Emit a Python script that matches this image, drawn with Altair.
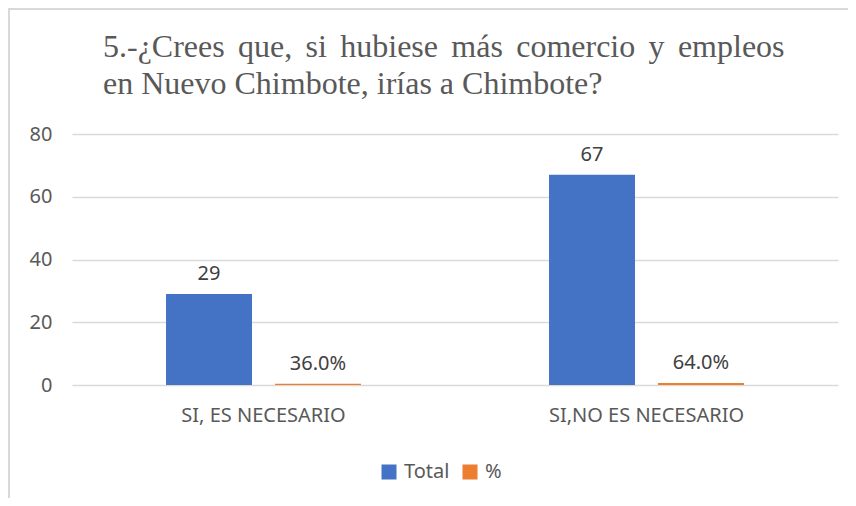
import altair as alt
import pandas as pd

categories = ["SI, ES NECESARIO", "SI,NO ES NECESARIO"]
series = ["Total", "%"]
total_values = [29, 67]
pct_values = [0.36, 0.64]
title_lines = ["5.-¿Crees\u2006 que,\u2006 si\u2006 hubiese\u2006 más\u2006 comercio\u2006 y\u2006 empleos",
               "en Nuevo Chimbote, irías a Chimbote?"]

rows = []
for c, t, p in zip(categories, total_values, pct_values):
    rows.append({"cat": c, "series": "Total", "value": t})
    rows.append({"cat": c, "series": "%", "value": p})
df = pd.DataFrame(rows)

font = "Noto Sans"
txt = "#595959"
fs = 20

base = alt.Chart(df).encode(
    x=alt.X("cat:N", sort=categories, title=None,
            scale=alt.Scale(paddingInner=0.491, paddingOuter=0.2455),
            axis=alt.Axis(labelAngle=0, domain=False, ticks=False, labelPadding=20,
                          labelLimit=400, labelFont=font, labelFontSize=fs, labelColor=txt)),
    xOffset=alt.XOffset("series:N", sort=series,
                        scale=alt.Scale(paddingInner=0.211, paddingOuter=0)),
    y=alt.Y("value:Q", title=None,
            scale=alt.Scale(domain=[0, 80], nice=False),
            axis=alt.Axis(values=[0, 20, 40, 60, 80], domain=False, ticks=False,
                          labelPadding=20, labelFont=font, labelFontSize=fs,
                          labelColor=txt, gridColor="#D9D9D9", gridWidth=1.3)),
)

bars = base.mark_bar().encode(
    color=alt.Color("series:N", sort=series,
                    scale=alt.Scale(domain=series, range=["#4472C4", "#ED7D31"]),
                    legend=alt.Legend(title=None, orient="none", direction="horizontal",
                                      legendX=307, legendY=328,
                                      symbolType="square", symbolSize=225,
                                      symbolStrokeWidth=0, labelFont=font,
                                      labelFontSize=fs, labelColor=txt,
                                      columnPadding=10, labelOffset=5))
)

labels = base.transform_calculate(
    label="datum.series == 'Total' ? format(datum.value, 'd') : format(datum.value, '.1%')"
).mark_text(baseline="bottom", dy=-10, font=font, fontSize=fs, color="#404040").encode(
    text="label:N"
)

one = alt.Chart(pd.DataFrame({"k": [0]}))
title_mark = one.mark_text(align="left", baseline="alphabetic", font="Liberation Serif",
                           fontSize=32, color=txt, lineHeight=37).encode(
    x=alt.value(31), y=alt.value(-77), text=alt.value(title_lines))
frame_left = one.mark_rule(color="#D9D9D9", strokeWidth=2).encode(
    x=alt.value(-63), y=alt.value(-126), y2=alt.value(364))
frame_top = one.mark_rule(color="#D9D9D9", strokeWidth=2).encode(
    x=alt.value(-64), x2=alt.value(776), y=alt.value(-125))

chart = alt.layer(bars, labels, title_mark, frame_left, frame_top).properties(
    width=766, height=251,
    autosize=alt.AutoSizeParams(type="none"),
    padding={"left": 64, "top": 126, "right": 10, "bottom": 113},
).configure_view(stroke=None)

chart.save("out.html", embed_options={"renderer": "svg", "actions": False})
